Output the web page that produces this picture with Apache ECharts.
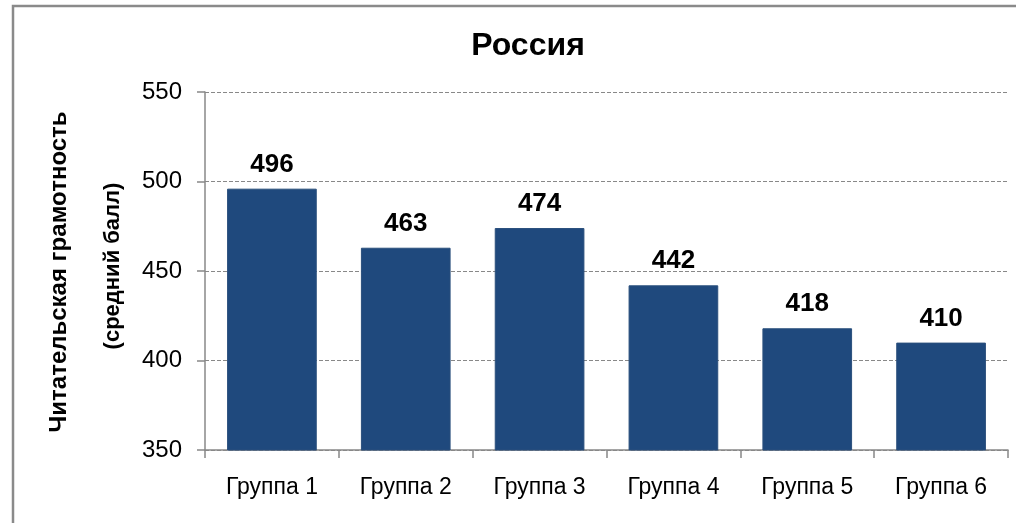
<!DOCTYPE html>
<html>
<head>
<meta charset="utf-8">
<script src="https://cdn.jsdelivr.net/npm/echarts@6/dist/echarts.min.js"></script>
<style>
  html, body { margin: 0; padding: 0; background: #fff; }
  #main { width: 1016px; height: 523px; }
</style>
</head>
<body>
<div id="main"></div>
<script>
// данные
const groups = ['Группа 1', 'Группа 2', 'Группа 3', 'Группа 4', 'Группа 5', 'Группа 6'];
const scores = [496, 463, 474, 442, 418, 410];
const axisTitle = ['Читательская грамотность', '(средний балл)'];

const myChart = echarts.init(document.getElementById('main'));
const font = '"Liberation Sans", Arial, sans-serif';

const option = {
    backgroundColor: '#fff',
    animation: false,
    textStyle: {fontFamily: font},
    title: {
        text: 'Россия',
        left: 523,
        top: 25,
        textAlign: 'center',
        textStyle: {fontSize: 32, fontWeight: 'bold', color: '#000', fontFamily: font}
    },
    graphic: [{
        type: 'rect',
        shape: {x: 13, y: 6, width: 1100, height: 600},
        style: {fill: 'none', stroke: '#8a8a8a', lineWidth: 2.5},
        silent: true
    }, {
        type: 'text',
        x: 59, y: 272,
        rotation: Math.PI / 2,
        style: {text: axisTitle[0], font: 'bold 24px ' + font, fill: '#000', align: 'center', verticalAlign: 'middle'},
        silent: true
    }, {
        type: 'text',
        x: 113, y: 266,
        rotation: Math.PI / 2,
        style: {text: axisTitle[1], font: 'bold 22px ' + font, fill: '#000', align: 'center', verticalAlign: 'middle'},
        silent: true
    }],
    grid: {left: 205, right: 8, top: 92, bottom: 73, containLabel: false, outerBoundsMode: 'none'},
    xAxis: {
        type: 'category',
        data: groups,
        axisLine: {lineStyle: {color: '#888', width: 1.5}},
        axisTick: {show: true, length: 8, lineStyle: {color: '#888', width: 1.5}},
        axisLabel: {color: '#000', fontSize: 23, margin: 26, fontFamily: font}
    },
    yAxis: {
        type: 'value',
        min: 350,
        max: 550,
        interval: 50,
        axisLine: {show: true, lineStyle: {color: '#888', width: 1.5}},
        axisTick: {show: true, length: 8, lineStyle: {color: '#888', width: 1.5}},
        axisLabel: {color: '#000', fontSize: 24, margin: 23, fontFamily: font},
        splitLine: {lineStyle: {color: '#888', type: [4, 2], width: 1}}
    },
    series: [{
        type: 'bar',
        data: scores,
        barWidth: '67%',
        itemStyle: {color: '#1f497d', borderColor: '#2a4f7c', borderWidth: 1},
        label: {
            show: true,
            position: 'top',
            distance: 11,
            color: '#000',
            fontSize: 26,
            fontWeight: 'bold',
            fontFamily: font
        }
    }]
};
myChart.setOption(option);
</script>
</body>
</html>
